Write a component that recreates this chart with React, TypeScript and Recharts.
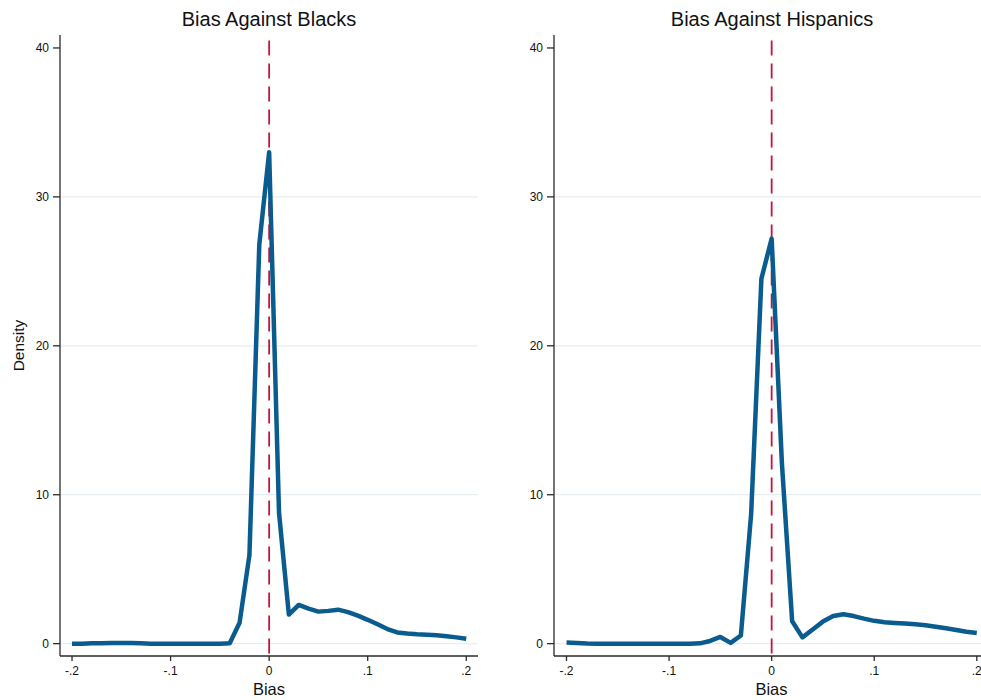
import React from 'react'
import { LineChart, Line, XAxis, YAxis, ReferenceLine } from 'recharts'

// bias grid (x) and kernel density estimates
const biasValues = [
  -0.2, -0.19, -0.18, -0.17, -0.16, -0.15, -0.14, -0.13, -0.12, -0.11,
  -0.1, -0.09, -0.08, -0.07, -0.06, -0.05, -0.04, -0.03, -0.02, -0.01,
  0, 0.01, 0.02, 0.03, 0.04, 0.05, 0.06, 0.07, 0.08, 0.09,
  0.1, 0.11, 0.12, 0.13, 0.14, 0.15, 0.16, 0.17, 0.18, 0.19, 0.2,
]

const densityBlacks = [
  0, 0, 0.02, 0.03, 0.04, 0.05, 0.04, 0.02, 0, 0,
  0, 0, 0, 0, 0, 0, 0.03, 1.4, 5.95, 26.8,
  33.0, 8.8, 1.95, 2.6, 2.35, 2.15, 2.2, 2.28, 2.12, 1.88,
  1.6, 1.3, 0.98, 0.75, 0.68, 0.63, 0.6, 0.56, 0.5, 0.42, 0.33,
]

const densityHispanics = [
  0.07, 0.05, 0.01, 0, 0, 0, 0, 0, 0, 0,
  0, 0, 0, 0.02, 0.18, 0.45, 0.05, 0.55, 8.7, 24.5,
  27.2, 12.1, 1.5, 0.42, 0.95, 1.48, 1.85, 1.97, 1.85, 1.68,
  1.53, 1.44, 1.39, 1.35, 1.3, 1.23, 1.14, 1.03, 0.92, 0.8, 0.72,
]

const xTicks = [-0.2, -0.1, 0, 0.1, 0.2]
const xTickLabels = ['-.2', '-.1', '0', '.1', '.2']
const yTicks = [0, 10, 20, 30, 40]
const gridValues = [0, 10, 20, 30]

const FONT = '"Liberation Sans", Arial, Helvetica, sans-serif'
const LINE_BLUE = '#0a5c8e'
const RED = '#c4163c'
const AXIS = '#2a2a2a'

const blacksData = biasValues.map((b, i) => ({ bias: b, density: densityBlacks[i] }))
const hispanicsData = biasValues.map((b, i) => ({ bias: b, density: densityHispanics[i] }))

const fmtX = (v: number) => {
  const idx = xTicks.findIndex(t => Math.abs(t - v) < 1e-9)
  return idx >= 0 ? xTickLabels[idx] : String(v)
}

interface PanelProps {
  data: { bias: number; density: number }[]
  width: number
  marginLeft: number
  marginRight: number
  showYLabel: boolean
}

function Panel({ data, width, marginLeft, marginRight, showYLabel }: PanelProps) {
  return (
    <LineChart
      width={width}
      height={700}
      data={data}
      margin={{ top: 35, right: marginRight, bottom: 0, left: marginLeft }}
      style={{ fontFamily: FONT }}
    >
      {gridValues.map(g => (
        <ReferenceLine key={g} y={g} stroke="#e6eef1" strokeWidth={1.2} />
      ))}
      <XAxis
        dataKey="bias"
        type="number"
        domain={[-0.2122, 0.2119]}
        ticks={xTicks}
        tickFormatter={fmtX}
        allowDataOverflow
        height={44}
        stroke={AXIS}
        strokeWidth={1.3}
        tickSize={5}
        tickMargin={5}
        tick={{ fill: '#111', fontSize: 12 }}
        label={{ value: 'Bias', position: 'insideBottom', offset: 5, fill: '#111', fontSize: 16.5 }}
      />
      <YAxis
        type="number"
        domain={[-0.83, 40.87]}
        ticks={yTicks}
        allowDataOverflow
        width={50}
        stroke={AXIS}
        strokeWidth={1.3}
        tickSize={7}
        tickMargin={4}
        tick={{ fill: '#111', fontSize: 12 }}
        label={showYLabel ? { value: 'Density', angle: -90, position: 'center', dx: -17, fill: '#111', fontSize: 15.5 } : undefined}
      />
      <ReferenceLine
        segment={[{ x: 0, y: 40.5 }, { x: 0, y: -0.83 }]}
        stroke={RED}
        strokeWidth={1.8}
        strokeDasharray="15 8"
      />
      <Line
        type="linear"
        dataKey="density"
        stroke={LINE_BLUE}
        strokeWidth={4.5}
        strokeLinejoin="round"
        dot={false}
        isAnimationActive={false}
      />
    </LineChart>
  )
}

const titleStyle: React.CSSProperties = {
  position: 'absolute',
  top: 8,
  fontFamily: FONT,
  fontSize: 20,
  color: '#111',
  textAlign: 'center',
  width: 300,
}

export default function App() {
  return (
    <div style={{ position: 'absolute', left: 0, top: 0, width: 981, height: 700, overflow: 'hidden', background: '#fff' }}>
      <div style={{ position: 'absolute', left: 0, top: 0 }}>
        <Panel data={blacksData} width={490} marginLeft={10} marginRight={12} showYLabel />
      </div>
      <div style={{ position: 'absolute', left: 490, top: 0 }}>
        <Panel data={hispanicsData} width={505} marginLeft={14} marginRight={6} showYLabel={false} />
      </div>
      <div style={{ ...titleStyle, left: 269 - 150 }}>Bias Against Blacks</div>
      <div style={{ ...titleStyle, left: 772 - 150 }}>Bias Against Hispanics</div>
    </div>
  )
}
